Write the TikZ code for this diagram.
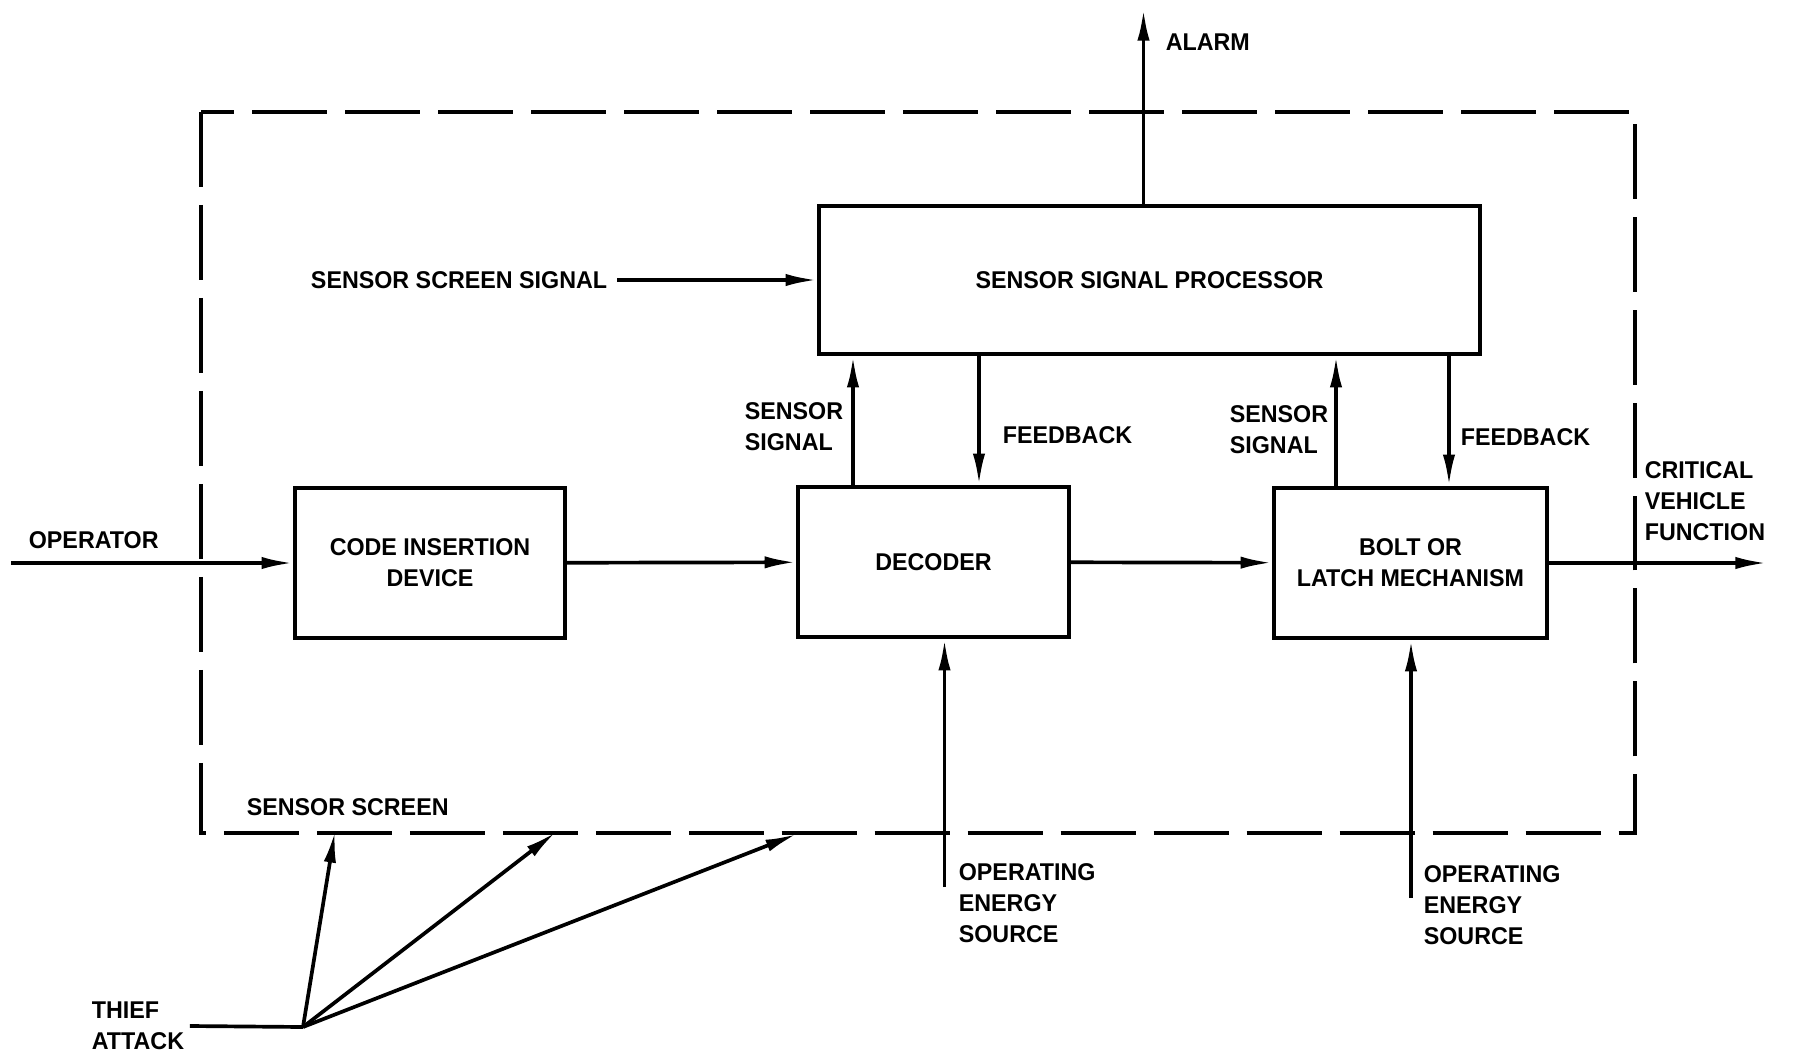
\documentclass[tikz,border=0pt]{standalone}
\usepackage{fontspec}
\setmainfont[FakeStretch=0.96]{Liberation Sans}
\usetikzlibrary{arrows.meta}

\begin{document}
\begin{tikzpicture}[x=0.02cm,y=-0.02cm,line width=2.1pt,
  font=\fontsize{13.8}{17.8}\selectfont\bfseries,
  unit/.style={draw,rectangle,align=center,minimum height=3cm},
  lbl/.style={inner sep=0pt,align=left},
  flow/.style={-{Latex[length=18pt,width=7pt]}},
  screen/.style={dash pattern=on 1.5cm off 0.36cm}]
  \useasboundingbox (0,0) rectangle (1793,1059);
  % sensor screen
  \draw[screen] (201,112) rectangle (1635,833);
  \node[lbl,anchor=west] (screenlbl) at (245,807) {SENSOR SCREEN};
  % blocks
  \node[unit,minimum width=13.22cm,minimum height=2.96cm] (ssp) at (1149.5,280) {SENSOR SIGNAL PROCESSOR};
  \node[unit,minimum width=5.4cm] (cid) at (430,563) {CODE INSERTION\\DEVICE};
  \node[unit,minimum width=5.42cm] (dec) at (933.5,562) {DECODER};
  \node[unit,minimum width=5.46cm] (bolt) at (1410.5,563) {BOLT OR\\LATCH MECHANISM};
  % main line
  \node[lbl,anchor=west] (oplbl) at (27,540) {OPERATOR};
  \coordinate (opin) at (11,563);
  \coordinate (crit) at (1767,563);
  \node[lbl,anchor=west] (critlbl) at (1643,501) {CRITICAL\\VEHICLE\\FUNCTION};
  \draw[flow] (opin) -- (cid);
  \draw[flow] (cid) -- (dec);
  \draw[flow] (dec) -- (bolt);
  \draw[flow] (bolt) -- (crit);
  % alarm
  \coordinate (alarm) at (1143.5,9);
  \node[lbl,anchor=west] (alarmlbl) at (1164,42) {ALARM};
  \draw[flow] (ssp.north -| alarm) -- (alarm);
  % sensor screen signal
  \node[lbl,anchor=east] (sss) at (609,280) {SENSOR SCREEN SIGNAL};
  \draw[flow] ([xshift=0.16cm]sss.east) -- (ssp.west);
  % decoder <-> processor
  \coordinate (sigA) at (853,0);
  \coordinate (fbA) at (979,0);
  \draw[flow] (dec.north -| sigA) -- (ssp.south -| sigA);
  \draw[flow] (ssp.south -| fbA) -- (dec.north -| fbA);
  \node[lbl,anchor=east] (sigAlbl) at (845,427) {SENSOR\\SIGNAL};
  \node[lbl,anchor=west] (fbAlbl) at (1001,435) {FEEDBACK};
  % bolt <-> processor
  \coordinate (sigB) at (1336,0);
  \coordinate (fbB) at (1449,0);
  \draw[flow] (bolt.north -| sigB) -- (ssp.south -| sigB);
  \draw[flow] (ssp.south -| fbB) -- (bolt.north -| fbB);
  \node[lbl,anchor=east] (sigBlbl) at (1330,430) {SENSOR\\SIGNAL};
  \node[lbl,anchor=west] (fbBlbl) at (1459,437) {FEEDBACK};
  % energy sources
  \coordinate (enA) at (944.5,887);
  \coordinate (enB) at (1411,898);
  \draw[flow] (enA) -- (dec.south -| enA);
  \draw[flow] (enB) -- (bolt.south -| enB);
  \node[lbl,anchor=west] (enAlbl) at (957,903) {OPERATING\\ENERGY\\SOURCE};
  \node[lbl,anchor=west] (enBlbl) at (1422,905) {OPERATING\\ENERGY\\SOURCE};
  % thief attack
  \node[lbl,anchor=west] (thief) at (90,1026) {THIEF\\ATTACK};
  \coordinate (hub) at (303,1027);
  \coordinate (hitA) at (335,831);
  \coordinate (hitB) at (556,832);
  \coordinate (hitC) at (797,834);
  \draw ([xshift=0.08cm]thief.east) -- (hub);
  \foreach \h in {hitA,hitB,hitC}
    \draw[flow] (hub) -- (\h);
\end{tikzpicture}
\end{document}
